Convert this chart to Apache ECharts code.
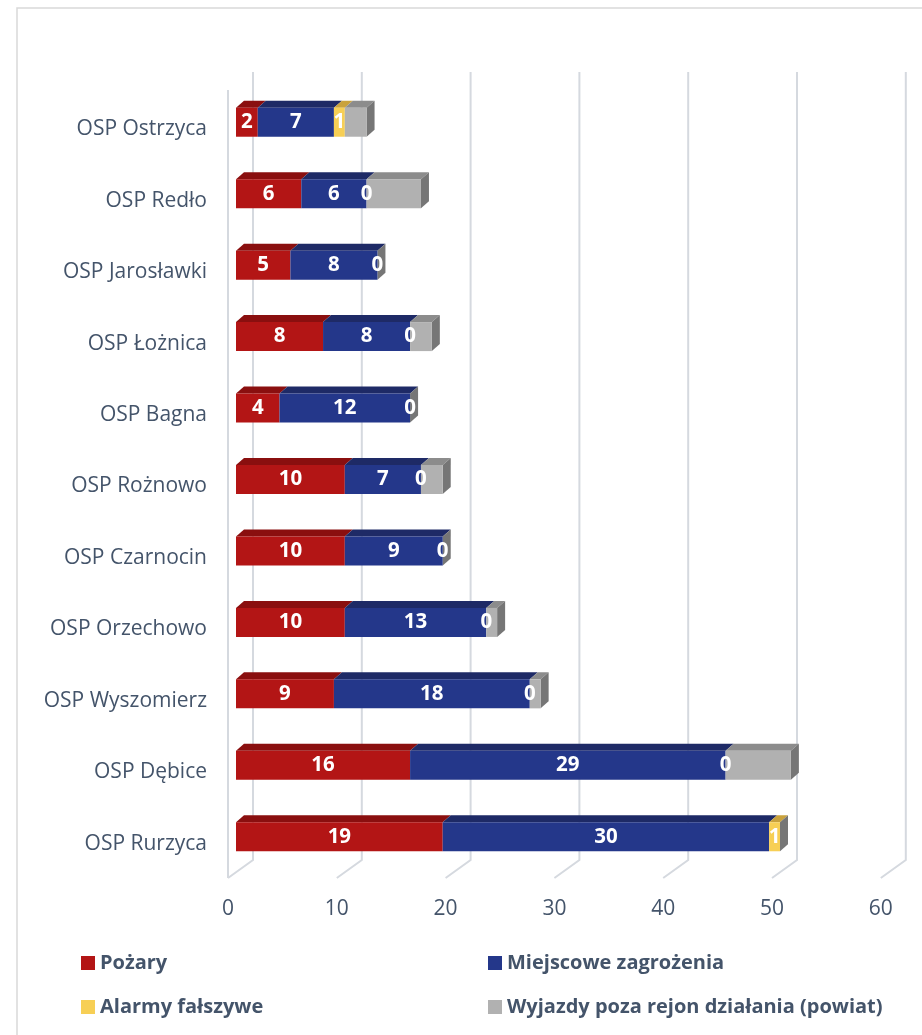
<!DOCTYPE html>
<html><head><meta charset="utf-8">
<script src="https://cdn.jsdelivr.net/npm/echarts@6/dist/echarts.min.js"></script>
<style>html,body{margin:0;padding:0;background:#fff}#c{width:922px;height:1035px}</style>
</head><body><div id="c"></div>
<script>
const categories = ['OSP Ostrzyca','OSP Redło','OSP Jarosławki','OSP Łożnica','OSP Bagna','OSP Rożnowo','OSP Czarnocin','OSP Orzechowo','OSP Wyszomierz','OSP Dębice','OSP Rurzyca'];
const pozary = [2,6,5,8,4,10,10,10,9,16,19];
const miejscowe = [7,6,8,8,12,7,9,13,18,29,30];
const alarmy = [1,0,0,0,0,0,0,0,0,0,1];
const wyjazdy = [2,5,0,2,0,2,0,1,1,6,0];
const xTicks = [0,10,20,30,40,50,60];
const seriesNames = ['Pożary','Miejscowe zagrożenia','Alarmy fałszywe','Wyjazdy poza rejon działania (powiat)'];

const FRONT = ['#b31515','#24378a','#f7cf55','#b1b1b1'];
const TOP = ['#8a0f0f','#1e2a66','#c9a23c','#8c8c8c'];
const SIDE = '#767676';
const TXT = '#44546a';
const FONT = 'Open Sans';
const BW = 29, DX = 8, DY = 7;

const chart = echarts.init(document.getElementById('c'));

const stackRows = categories.map((c,i)=>[i, pozary[i]+miejscowe[i]+alarmy[i]+wyjazdy[i], pozary[i], miejscowe[i], alarmy[i], wyjazdy[i]]);

function barSeries(idx, data, showLabel){
  return {
    type:'bar', name:seriesNames[idx], stack:'s', data:data, barWidth:BW,
    itemStyle:{color:FRONT[idx]}, z:3,
    label:{show:showLabel, position:'inside', color:'#fff', fontFamily:FONT, fontWeight:'bold', fontSize:20.5},
    emphasis:{disabled:true}
  };
}

function legendAt(name, left, top){
  return {data:[name], left:left, top:top, padding:0, icon:'rect', itemWidth:14, itemHeight:14, itemGap:6,
    selectedMode:false,
    textStyle:{color:TXT, fontFamily:FONT, fontWeight:'bold', fontSize:20}};
}

chart.setOption({
  animation:false,
  graphic:[{type:'rect', shape:{x:17, y:8, width:940, height:1100}, style:{fill:'none', stroke:'#d9d9d9', lineWidth:1.5}, silent:true}],
  legend:[
    legendAt(seriesNames[0], 81, 953),
    legendAt(seriesNames[1], 488, 953),
    legendAt(seriesNames[2], 81, 997),
    legendAt(seriesNames[3], 488, 997)
  ],
  grid:{left:236, top:86.5, width:652.8, height:786, containLabel:false},
  xAxis:{type:'value', min:0, max:60, interval:10,
    axisLine:{show:false}, axisTick:{show:false}, splitLine:{show:false},
    axisLabel:{color:TXT, fontFamily:FONT, fontSize:21, margin:26, padding:[0,16,0,0]}},
  yAxis:{type:'category', data:categories, inverse:true,
    axisLine:{show:false}, axisTick:{show:false},
    axisLabel:{margin:29, formatter:function(v){return '{a|' + v + '}';},
      rich:{a:{color:TXT, fontFamily:FONT, fontSize:21, padding:[14,0,0,0]}}}},
  series:[
    {type:'custom', name:'grid3d', silent:true, z:1, clip:false,
      data:xTicks.map(v=>[v,0]),
      encode:{x:0, y:1},
      renderItem:function(params, api){
        const cs = params.coordSys;
        const x = api.coord([api.value(0), 0])[0];
        const front = x - 8, back = x + 17;
        const top = cs.y - 14.5, floorBack = cs.y + cs.height - 12.5, floorFront = cs.y + cs.height + 5.5;
        const children = [{type:'polyline', shape:{points:[[back,top],[back,floorBack],[front,floorFront]]},
          style:{fill:'none', stroke:'#d5d9df', lineWidth:2}}];
        if (api.value(0) === 0) {
          children.push({type:'line', shape:{x1:front, y1:top+18, x2:front, y2:floorFront},
            style:{stroke:'#d5d9df', lineWidth:2}});
        }
        return {type:'group', children:children};
      }
    },
    barSeries(0, pozary, true),
    barSeries(1, miejscowe, true),
    barSeries(2, alarmy, true),
    barSeries(3, wyjazdy, false),
    {type:'custom', name:'faces3d', silent:true, z:2, clip:false,
      data:stackRows,
      encode:{x:1, y:0},
      renderItem:function(params, api){
        const cat = api.value(0);
        const segs = [api.value(2), api.value(3), api.value(4), api.value(5)];
        const yc = api.coord([0, cat])[1];
        const yTop = yc - BW/2, yBot = yc + BW/2;
        const children = [];
        let cum = 0;
        segs.forEach((v,k)=>{
          if (v > 0) {
            const x0 = api.coord([cum, cat])[0];
            const x1 = api.coord([cum+v, cat])[0];
            children.push({type:'polygon', shape:{points:[[x0,yTop],[x1,yTop],[x1+DX,yTop-DY],[x0+DX,yTop-DY]]},
              style:{fill:TOP[k]}});
          }
          cum += v;
        });
        const xe = api.coord([cum, cat])[0];
        children.push({type:'polygon', shape:{points:[[xe,yTop],[xe+DX,yTop-DY],[xe+DX,yBot-DY],[xe,yBot]]},
          style:{fill:SIDE}});
        return {type:'group', children:children};
      }
    }
  ]
});
</script></body></html>
